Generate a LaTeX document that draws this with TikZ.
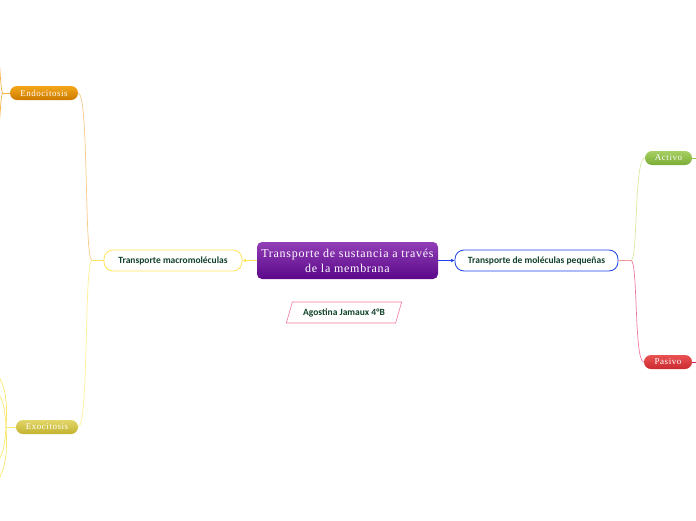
\documentclass[tikz,border=0pt]{standalone}
\usepackage{fontspec}
\setmainfont{Liberation Serif}
\newfontfamily\labelfont{Carlito}
\newfontfamily\topicfont[LetterSpace=6]{Liberation Serif}
\newfontfamily\leaffont[LetterSpace=6]{Liberation Serif}
\usepackage{xcolor}
\usetikzlibrary{arrows.meta, shapes.geometric}

\definecolor{topicTop}{RGB}{146,62,182}
\definecolor{topicBot}{RGB}{90,8,138}
\definecolor{labelGreen}{RGB}{18,66,42}
\definecolor{macroLine}{RGB}{255,228,90}
\definecolor{smallLine}{RGB}{30,64,232}
\definecolor{nameLine}{RGB}{240,120,150}
\definecolor{endoTop}{RGB}{244,166,24}
\definecolor{endoBot}{RGB}{204,122,0}
\definecolor{exoTop}{RGB}{226,214,104}
\definecolor{exoBot}{RGB}{194,178,48}
\definecolor{actTop}{RGB}{166,208,98}
\definecolor{actBot}{RGB}{122,172,54}
\definecolor{pasTop}{RGB}{234,82,82}
\definecolor{pasBot}{RGB}{202,42,48}
\definecolor{endoLine}{RGB}{248,202,134}
\definecolor{endoEdge}{RGB}{242,178,70}
\definecolor{exoLine}{RGB}{255,240,150}
\definecolor{exoEdge}{RGB}{250,232,110}
\definecolor{actLine}{RGB}{214,234,160}
\definecolor{actEdge}{RGB}{150,200,80}
\definecolor{pasLine}{RGB}{242,122,160}
\definecolor{pasEdge}{RGB}{226,30,100}
\definecolor{smallEdge}{RGB}{240,150,150}

\tikzset{
  topic/.style={rectangle, rounded corners=5pt, minimum width=181pt,
    minimum height=37pt, inner sep=0pt, top color=topicTop,
    bottom color=topicBot, text=white, align=center,
    font=\topicfont\fontsize{12}{15}\selectfont},
  subtopic/.style={rectangle, rounded corners=9pt, fill=white,
    line width=0.8pt, minimum height=21pt, inner sep=0pt, text=labelGreen,
    font=\labelfont\bfseries\fontsize{9.5}{10}\selectfont},
  leaf/.style={rectangle, rounded corners=7pt, minimum height=14pt,
    inner sep=0pt, text=white, font=\leaffont\fontsize{9}{10}\selectfont},
  branch/.style={line width=0.7pt},
}

\begin{document}
\begin{tikzpicture}[x=1pt, y=-1pt]
  % page
  \useasboundingbox (0,0) rectangle (696,520);
  \clip (0,0) rectangle (696,520);

  % --- central topic and name
  \node[topic] (main) at (347.5,260.5) {Transporte de sustancia a través\\de la membrana};
  \node[trapezium, trapezium left angle=60, trapezium right angle=120,
    trapezium stretches=true, draw=nameLine, line width=0.6pt,
    minimum width=116pt, minimum height=21pt, inner sep=0pt,
    text=labelGreen, font=\labelfont\bfseries\fontsize{9.5}{10}\selectfont]
    (name) at (344,312.5) {Agostina Jamaux 4°B};

  % --- main branches
  \node[subtopic, draw=macroLine, minimum width=138pt] (macro) at (173,260.5) {Transporte macromoléculas};
  \node[subtopic, draw=smallLine, minimum width=163pt] (small) at (536.5,260.5) {Transporte de moléculas pequeñas};
  \draw[branch, macroLine, -{Stealth[length=4pt, width=3.5pt]}] (main.west) -- (macro.east);
  \draw[branch, smallLine, -{Stealth[length=4pt, width=3.5pt]}] (main.east) -- (small.west);

  % --- leaves
  \node[leaf, top color=endoTop, bottom color=endoBot, minimum width=68pt] (endo) at (44,93) {Endocitosis};
  \node[leaf, top color=exoTop, bottom color=exoBot, minimum width=62pt] (exo) at (47,427) {Exocitosis};
  \node[leaf, top color=actTop, bottom color=actBot, minimum width=47pt] (act) at (668.5,158) {Activo};
  \node[leaf, top color=pasTop, bottom color=pasBot, minimum width=48pt] (pas) at (668,362) {Pasivo};

  % left fork (macromolecules)
  \coordinate (jl) at (92,260.5);
  \draw[branch, macroLine] (macro.west) -- (jl);
  \draw[branch, endoLine] (jl) .. controls (84,260.5) and (89,93) .. (endo.east);
  \draw[branch, exoLine] (jl) .. controls (84,260.5) and (89,427) .. (exo.east);

  % right fork (small molecules)
  \coordinate (jr) at (631,260.5);
  \draw[branch, smallEdge] (small.east) -- (jr);
  \draw[branch, actLine] (jr) .. controls (638,260.5) and (634,158) .. (act.west);
  \draw[branch, pasLine] (jr) .. controls (638,260.5) and (634,362) .. (pas.west);

  % --- stubs running off the page
  \coordinate (el) at (3,93);
  \coordinate (eu) at (-4,40);  \coordinate (ed) at (-4,146);
  \draw[branch, endoEdge] (endo.west) -- (el);
  \draw[branch, endoEdge] (el) .. controls (0,93) and (1,62) .. (eu);
  \draw[branch, endoEdge] (el) .. controls (0,93) and (1,124) .. (ed);

  \coordinate (xl) at (6,427);
  \coordinate (xu) at (-4,372); \coordinate (xd) at (-4,484);
  \coordinate (xui) at (-3,392); \coordinate (xdi) at (-3,462);
  \draw[branch, exoEdge] (exo.west) -- (xl);
  \draw[branch, exoEdge] (xl) .. controls (8,400) and (5,385) .. (xu);
  \draw[branch, exoEdge] (xl) .. controls (8,454) and (5,470) .. (xd);
  \draw[branch, exoEdge] (xl) .. controls (5,412) and (4,400) .. (xui);
  \draw[branch, exoEdge] (xl) .. controls (5,442) and (4,454) .. (xdi);

  \coordinate (ar) at (700,158);
  \coordinate (pr) at (700,362);
  \draw[branch, actEdge] (act.east) -- (ar);
  \draw[branch, pasEdge] (pas.east) -- (pr);
\end{tikzpicture}
\end{document}
